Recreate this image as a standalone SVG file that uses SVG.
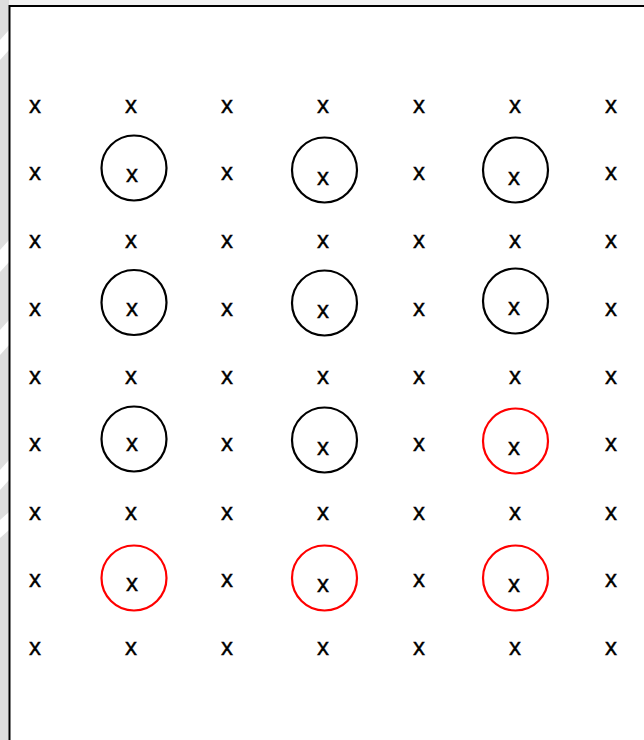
<svg xmlns="http://www.w3.org/2000/svg" width="644" height="740" viewBox="0 0 644 740">
<style>
.t{font-family:"Liberation Sans",Arial,sans-serif;font-size:24px;fill:#000;stroke:#000;stroke-width:0.4;text-anchor:middle}
.c{fill:none;stroke:#000;stroke-width:2.2}
.r{fill:none;stroke:#f00;stroke-width:2.2}
</style>
<rect width="644" height="740" fill="#fff"/>
<g id="watermark">
<rect x="0" y="0" width="9" height="740" fill="#dedede"/>
<polygon points="0,40 9,30 9,50 0,60" fill="#fff"/>
<polygon points="0,250 9,240 9,262 0,272" fill="#fff"/>
<polygon points="0,330 9,320 9,345 0,355" fill="#fff"/>
<polygon points="0,470 9,460 9,480 0,490" fill="#fff"/>
<polygon points="0,520 9,512 9,530 0,538" fill="#fff"/>
<rect x="9" y="0" width="635" height="5" fill="#f2f2f2"/>
</g>
<g id="frame"><path d="M9.5,740 V6 H644" fill="none" stroke="#000" stroke-width="2"/></g>
<g id="connectors"></g>
<g id="grid">
<g id="r1"><text class="t" x="35" y="113">x</text><text class="t" x="131" y="113">x</text><text class="t" x="227" y="113">x</text><text class="t" x="323" y="113">x</text><text class="t" x="419" y="113">x</text><text class="t" x="515" y="113">x</text><text class="t" x="611" y="113">x</text></g>
<g id="r2"><text class="t" x="35" y="180">x</text><text class="t" x="227" y="180">x</text><text class="t" x="419" y="180">x</text><text class="t" x="611" y="180">x</text></g>
<g id="r3"><text class="t" x="35" y="248">x</text><text class="t" x="131" y="248">x</text><text class="t" x="227" y="248">x</text><text class="t" x="323" y="248">x</text><text class="t" x="419" y="248">x</text><text class="t" x="515" y="248">x</text><text class="t" x="611" y="248">x</text></g>
<g id="r4"><text class="t" x="35" y="316">x</text><text class="t" x="227" y="316">x</text><text class="t" x="419" y="316">x</text><text class="t" x="611" y="316">x</text></g>
<g id="r5"><text class="t" x="35" y="384">x</text><text class="t" x="131" y="384">x</text><text class="t" x="227" y="384">x</text><text class="t" x="323" y="384">x</text><text class="t" x="419" y="384">x</text><text class="t" x="515" y="384">x</text><text class="t" x="611" y="384">x</text></g>
<g id="r6"><text class="t" x="35" y="451">x</text><text class="t" x="227" y="451">x</text><text class="t" x="419" y="451">x</text><text class="t" x="611" y="451">x</text></g>
<g id="r7"><text class="t" x="35" y="520">x</text><text class="t" x="131" y="520">x</text><text class="t" x="227" y="520">x</text><text class="t" x="323" y="520">x</text><text class="t" x="419" y="520">x</text><text class="t" x="515" y="520">x</text><text class="t" x="611" y="520">x</text></g>
<g id="r8"><text class="t" x="35" y="587">x</text><text class="t" x="227" y="587">x</text><text class="t" x="419" y="587">x</text><text class="t" x="611" y="587">x</text></g>
<g id="r9"><text class="t" x="35" y="655">x</text><text class="t" x="131" y="655">x</text><text class="t" x="227" y="655">x</text><text class="t" x="323" y="655">x</text><text class="t" x="419" y="655">x</text><text class="t" x="515" y="655">x</text><text class="t" x="611" y="655">x</text></g>
</g>
<g id="n-2-2"><circle class="c" cx="134" cy="168" r="32.5"/><text class="t" x="132" y="182">x</text></g>
<g id="n-2-4"><circle class="c" cx="324.5" cy="170" r="32.5"/><text class="t" x="323" y="185">x</text></g>
<g id="n-2-6"><circle class="c" cx="515.5" cy="170" r="32.5"/><text class="t" x="514" y="185">x</text></g>
<g id="n-4-2"><circle class="c" cx="134" cy="302.5" r="32.5"/><text class="t" x="132" y="316">x</text></g>
<g id="n-4-4"><circle class="c" cx="324.5" cy="303" r="32.5"/><text class="t" x="323" y="318">x</text></g>
<g id="n-4-6"><circle class="c" cx="515.5" cy="301" r="32.5"/><text class="t" x="514" y="315">x</text></g>
<g id="n-6-2"><circle class="c" cx="134" cy="439" r="32.5"/><text class="t" x="132" y="451">x</text></g>
<g id="n-6-4"><circle class="c" cx="324.5" cy="440" r="32.5"/><text class="t" x="323" y="455">x</text></g>
<g id="n-6-6"><circle class="r" cx="515.5" cy="441" r="32.5"/><text class="t" x="514" y="455">x</text></g>
<g id="n-8-2"><circle class="r" cx="134" cy="578" r="32.5"/><text class="t" x="132" y="591">x</text></g>
<g id="n-8-4"><circle class="r" cx="324.5" cy="578" r="32.5"/><text class="t" x="323" y="592">x</text></g>
<g id="n-8-6"><circle class="r" cx="515.5" cy="578" r="32.5"/><text class="t" x="514" y="592">x</text></g>
</svg>
